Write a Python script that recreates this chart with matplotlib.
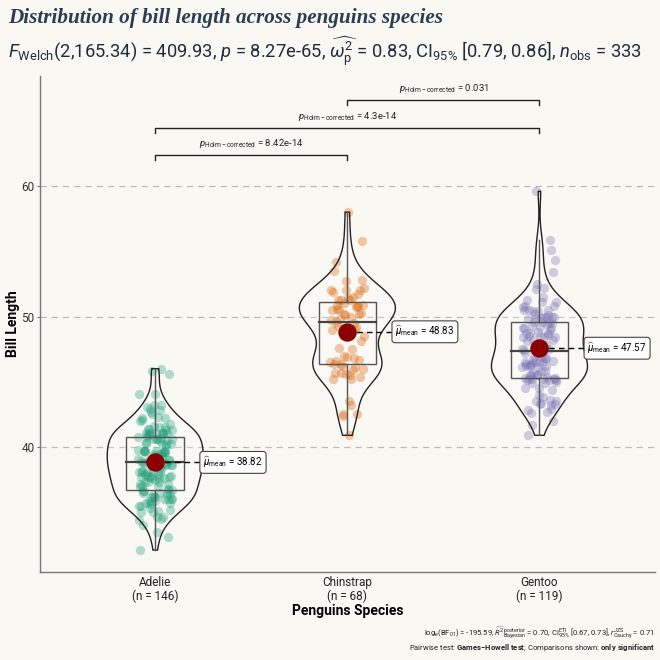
import numpy as np
import matplotlib
matplotlib.use("Agg")
import matplotlib.pyplot as plt
from matplotlib.patches import Polygon, Rectangle

plt.rcParams['font.family'] = ['Roboto', 'DejaVu Sans']
plt.rcParams['mathtext.fontset'] = 'custom'
plt.rcParams['mathtext.rm'] = 'Roboto'
plt.rcParams['mathtext.it'] = 'Roboto:italic'
plt.rcParams['mathtext.bf'] = 'Roboto:bold'

# bill length per species
species = ["Adelie", "Chinstrap", "Gentoo"]
tick_labels = ["Adelie\n(n = 146)", "Chinstrap\n(n = 68)", "Gentoo\n(n = 119)"]
adelie = [39.1, 39.5, 40.3, 36.7, 39.3, 38.9, 39.2, 41.1, 38.6, 34.6, 36.6, 38.7, 42.5, 34.4, 46.0,
          37.8, 37.7, 35.9, 38.2, 38.8, 35.3, 40.6, 40.5, 37.9, 40.5, 39.5, 37.2, 39.5, 40.9, 36.4,
          39.2, 38.8, 42.2, 37.6, 39.8, 36.5, 40.8, 36.0, 44.1, 37.0, 39.6, 41.1, 36.0, 42.3, 39.6,
          40.1, 35.0, 42.0, 34.5, 41.4, 39.0, 40.6, 36.5, 37.6, 35.7, 41.3, 37.6, 41.1, 36.4, 41.6,
          35.5, 41.1, 35.9, 41.8, 33.5, 39.7, 39.6, 45.8, 35.5, 42.8, 40.9, 37.2, 36.2, 42.1, 34.6,
          42.9, 36.7, 35.1, 37.3, 41.3, 36.3, 36.9, 38.3, 38.9, 35.7, 41.1, 34.0, 39.6, 36.2, 40.8,
          38.1, 40.3, 33.1, 43.2, 35.0, 41.0, 37.7, 37.8, 37.9, 39.7, 38.6, 38.2, 38.1, 43.2, 38.1,
          45.6, 39.7, 42.2, 39.6, 42.7, 38.6, 37.3, 35.7, 41.1, 36.2, 37.7, 40.2, 41.4, 35.2, 40.6,
          38.8, 41.5, 39.0, 44.1, 38.5, 43.1, 36.8, 37.5, 38.1, 41.1, 35.6, 40.2, 37.0, 39.7, 40.2,
          40.6, 32.1, 40.7, 37.3, 39.0, 39.2, 36.6, 36.0, 37.8, 36.0, 41.5]
chinstrap = [46.5, 50.0, 51.3, 45.4, 52.7, 45.2, 46.1, 51.3, 46.0, 51.3, 46.6, 51.7, 47.0, 52.0,
             45.9, 50.5, 50.3, 58.0, 46.4, 49.2, 42.4, 48.5, 43.2, 50.6, 46.7, 52.0, 50.5, 49.5,
             46.4, 52.8, 40.9, 54.2, 42.5, 51.0, 49.7, 47.5, 47.6, 52.0, 46.9, 53.5, 49.0, 46.2,
             50.9, 45.5, 50.9, 50.8, 50.1, 49.0, 51.5, 49.8, 48.1, 51.4, 45.7, 50.7, 42.5, 52.2,
             45.2, 49.3, 50.2, 45.6, 51.9, 46.8, 45.7, 55.8, 43.5, 49.6, 50.8, 50.2]
gentoo = [46.1, 50.0, 48.7, 50.0, 47.6, 46.5, 45.4, 46.7, 43.3, 46.8, 40.9, 49.0, 45.5, 48.4,
          45.8, 49.3, 42.0, 49.2, 46.2, 48.7, 50.2, 45.1, 46.5, 46.3, 42.9, 46.1, 44.5, 47.8,
          48.2, 50.0, 47.3, 42.8, 45.1, 59.6, 49.1, 48.4, 42.6, 44.4, 44.0, 48.7, 42.7, 49.6,
          45.3, 49.6, 50.5, 43.6, 45.5, 50.5, 44.9, 45.2, 46.6, 48.5, 45.1, 50.1, 46.5, 45.0,
          43.8, 45.5, 43.2, 50.4, 45.3, 46.2, 45.7, 54.3, 45.8, 49.8, 49.5, 43.5, 50.7, 47.7,
          46.4, 48.2, 46.5, 46.4, 48.6, 47.5, 51.1, 45.2, 45.2, 49.1, 52.5, 47.4, 50.0, 44.9,
          50.8, 43.4, 51.3, 47.5, 52.1, 47.5, 52.2, 45.5, 49.5, 44.5, 50.8, 49.4, 46.9, 48.4,
          51.1, 48.5, 55.9, 47.2, 49.1, 46.8, 41.7, 53.4, 43.3, 48.1, 50.5, 49.8, 43.5, 51.5,
          46.2, 55.1, 48.8, 47.2, 46.8, 50.4, 45.2, 49.9]
means = [38.82, 48.83, 47.57]
pairs = [(1, 2), (1, 3), (2, 3)]
pair_labels = ["8.42e-14", "4.3e-14", "0.031"]
pair_heights = [62.4, 64.45, 66.6]

colors = ["#1B9E77", "#D95F02", "#7570B3"]
bg = "#FAF8F3"
groups = [np.array(adelie), np.array(chinstrap), np.array(gentoo)]

fig = plt.figure(figsize=(6.6, 6.6), dpi=100, facecolor=bg)
ax = fig.add_axes([0.0606, 0.1333, 0.9314, 0.7515], facecolor=bg)


def kde(v, grid):
    n = len(v)
    iqr = np.subtract(*np.percentile(v, [75, 25]))
    bw = 0.9 * min(v.std(ddof=1), iqr / 1.34) * n ** -0.2
    z = (grid[:, None] - v[None, :]) / bw
    return np.exp(-0.5 * z ** 2).sum(axis=1)


for i, v in enumerate(groups):
    x0 = i + 1
    # violin
    grid = np.linspace(v.min(), v.max(), 200)
    d = kde(v, grid)
    d = d / d.max() * 0.25
    left = np.column_stack([x0 - d, grid])
    right = np.column_stack([x0 + d[::-1], grid[::-1]])
    poly = np.vstack([left, right])
    ax.add_patch(Polygon(poly, closed=True, facecolor="white", alpha=0.2, zorder=2))
    ax.add_patch(Polygon(poly, closed=True, facecolor="none", edgecolor="#222222", lw=1.0, zorder=4))

    # jittered points (deterministic offsets)
    off = ((np.arange(len(v)) * 0.6180339887) % 1 - 0.5) * 0.18
    ax.scatter(x0 + off, v, s=45, color=colors[i], alpha=0.33, linewidths=0, zorder=3)

    # box + whiskers
    q1, med, q3 = np.percentile(v, [25, 50, 75])
    iqr = q3 - q1
    lo = v[v >= q1 - 1.5 * iqr].min()
    hi = v[v <= q3 + 1.5 * iqr].max()
    ax.add_patch(Rectangle((x0 - 0.15, q1), 0.3, q3 - q1, facecolor="none",
                           edgecolor="#555555", lw=1.0, zorder=5))
    ax.plot([x0 - 0.15, x0 + 0.15], [med, med], color="#444444", lw=1.6, zorder=5)
    ax.plot([x0, x0], [q3, hi], color="#555555", lw=1.0, zorder=5)
    ax.plot([x0, x0], [lo, q1], color="#555555", lw=1.0, zorder=5)

    # mean point + label
    m = means[i]
    ax.plot([x0, x0 + 0.24], [m, m], color="black", lw=1.0, ls=(0, (4, 3)), zorder=6)
    ax.scatter([x0], [m], s=150, color="#8B0000", zorder=7)
    ax.text(x0 + 0.25, m, r"$\widehat{\mu}_{\mathrm{mean}}$ = %.2f" % m, fontsize=7,
            ha="left", va="center", zorder=8,
            bbox=dict(boxstyle="round,pad=0.35,rounding_size=0.3", facecolor="white",
                      edgecolor="#444444", lw=0.8))

# significance brackets
for (a, b), lab, h in zip(pairs, pair_labels, pair_heights):
    ax.plot([a, a, b, b], [h - 0.4, h, h, h - 0.4], color="#222222", lw=1.0, clip_on=False)
    ax.text((a + b) / 2, h + 0.35, r"$\mathit{p}_{\mathrm{Holm-corrected}}$ = " + lab,
            fontsize=6.8, ha="center", va="bottom", color="#222222")

ax.set_xlim(0.4, 3.6)
ax.set_ylim(30.42, 68.43)
ax.set_yticks([40, 50, 60])
ax.set_xticks([1, 2, 3])
ax.set_xticklabels(tick_labels, fontsize=8.5, color="#222222", linespacing=1.0)
ax.tick_params(axis="y", labelsize=8.5, labelcolor="#333333", length=2, pad=2, color="#777777")
ax.tick_params(axis="x", length=0, pad=3)
ax.yaxis.grid(True, color="#BBBBBB", ls=(0, (5, 4)), lw=0.9)
ax.set_axisbelow(True)
for s in ["top", "right"]:
    ax.spines[s].set_visible(False)
for s in ["left", "bottom"]:
    ax.spines[s].set_color("#777777")
    ax.spines[s].set_linewidth(1.0)
ax.set_xlabel("Penguins Species", fontsize=10, fontweight="bold", labelpad=1)
ax.set_ylabel("Bill Length", fontsize=10, fontweight="bold")
ax.yaxis.set_label_coords(-0.033, 0.5)

fig.text(0.012, 0.972, "Distribution of bill length across penguins species",
         fontsize=15.2, fontweight="bold", style="italic", family="Liberation Serif",
         color="#2A3D52", va="center", ha="left")
fig.text(0.012, 0.921,
         r"$\mathit{F}_{\mathrm{Welch}}$(2,165.34) = 409.93, $\mathit{p}$ = 8.27e-65, "
         r"$\widehat{\omega_{\mathrm{p}}^{2}}$ = 0.83, CI$_{95\%}$ [0.79, 0.86], "
         r"$\mathit{n}_{\mathrm{obs}}$ = 333",
         fontsize=13.2, color="#1E2D3D", va="center", ha="left")
fig.text(0.992, 0.040,
         r"log$_{e}$(BF$_{01}$) = -195.59, $\widehat{R^{2}}_{\mathrm{Bayesian}}^{\mathrm{posterior}}$ = 0.70, "
         r"CI$_{95\%}^{\mathrm{ETI}}$ [0.67, 0.73], $\mathit{r}_{\mathrm{Cauchy}}^{\mathrm{JZS}}$ = 0.71",
         fontsize=5.5, ha="right", va="center", color="#222222")
fig.text(0.992, 0.018,
         r"Pairwise test: $\mathbf{Games{-}Howell\ test}$; Comparisons shown: $\mathbf{only\ significant}$",
         fontsize=5.5, ha="right", va="center", color="#222222")

fig.savefig("out.png", dpi=100, facecolor=bg)
